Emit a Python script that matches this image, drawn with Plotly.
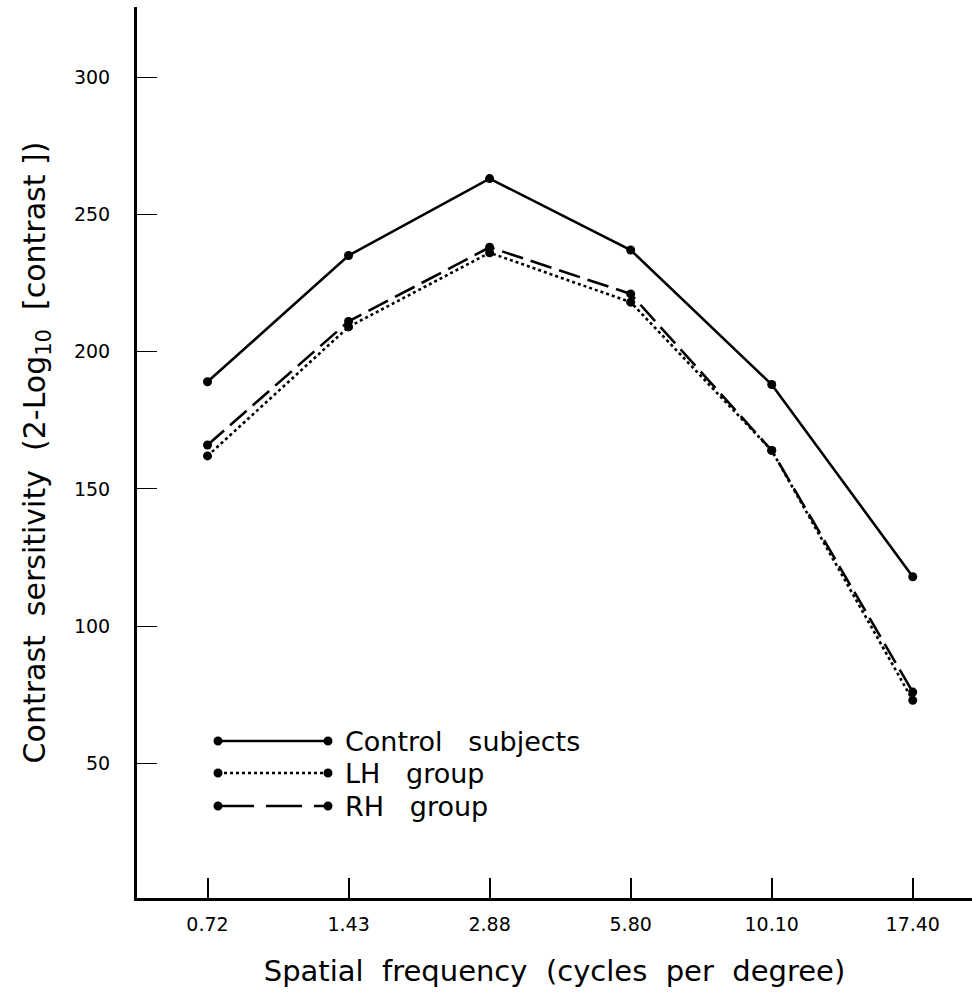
import plotly.graph_objects as go

categories = ["0.72", "1.43", "2.88", "5.80", "10.10", "17.40"]
control = [189, 235, 263, 237, 188, 118]
lh_group = [162, 209, 236, 218, 164, 73]
rh_group = [166, 211, 238, 221, 164, 76]
y_ticks = [50, 100, 150, 200, 250, 300]

FONT = "DejaVu Sans"
NB = "\u00a0"
fig = go.Figure()

series = [
    ("Control" + NB * 3 + "subjects", control, "solid"),
    ("LH" + NB * 3 + "group", lh_group, "dot"),
    ("RH" + NB * 3 + "group", rh_group, "22px,8px"),
]
for name, vals, dash in series:
    fig.add_trace(go.Scatter(
        x=list(range(len(categories))), y=vals, name=name,
        mode="lines+markers",
        line=dict(color="black", width=2.6, dash=dash),
        marker=dict(color="black", size=9),
        showlegend=False,
    ))

# manual legend (paper coords)
L, R, T, B = 137, 972, 7, 898
def px(x):
    return (x - L) / (R - L)
def py(y):
    return (B - y) / (B - T)

rows = [741, 773, 806]
for (name, vals, dash), yy in zip(series, rows):
    d = {"solid": "solid", "dot": "dot", "22px,8px": "36px,12px"}[dash]
    fig.add_shape(type="line", xref="paper", yref="paper",
                  x0=px(218), x1=px(328), y0=py(yy), y1=py(yy),
                  line=dict(color="black", width=2.6, dash=d))
    for cx in (218, 328):
        fig.add_shape(type="circle", xref="paper", yref="paper",
                      x0=px(cx - 4.5), x1=px(cx + 4.5),
                      y0=py(yy + 4.5), y1=py(yy - 4.5),
                      fillcolor="black", line=dict(color="black", width=0))
    fig.add_annotation(xref="paper", yref="paper", x=px(343), y=py(yy),
                       text=name, showarrow=False, xanchor="left",
                       yanchor="middle",
                       font=dict(family=FONT, size=27, color="black"))

xtitle = (NB * 2).join(["Spatial", "frequency", "(cycles", "per", "degree)"])
ytitle = (NB * 2).join(["Contrast", "sersitivity", "(2-Log<sub>10</sub>",
                        "[contrast" + NB + "])"])

fig.update_layout(
    width=972, height=997,
    margin=dict(l=L, r=0, t=T, b=997 - B),
    paper_bgcolor="white", plot_bgcolor="white",
    font=dict(family=FONT, color="black"),
    xaxis=dict(
        tickmode="array", tickvals=list(range(len(categories))),
        ticktext=categories, range=[-0.5, 5.42],
        showgrid=False, zeroline=False,
        showline=True, linecolor="black", linewidth=2.5,
        ticks="inside", ticklen=20, tickwidth=1.5, tickcolor="black",
        tickfont=dict(family=FONT, size=19, color="black"),
        ticklabelstandoff=7,
        title=dict(text=xtitle,
                   font=dict(family=FONT, size=29, color="black"),
                   standoff=28),
    ),
    yaxis=dict(
        tickmode="array", tickvals=y_ticks,
        range=[1, 325.5],
        showgrid=False, zeroline=False,
        showline=True, linecolor="black", linewidth=3,
        ticks="inside", ticklen=20, tickwidth=1.2, tickcolor="black",
        tickfont=dict(family=FONT, size=19, color="black"),
        ticklabelstandoff=20,
        title=dict(text=ytitle,
                   font=dict(family=FONT, size=30, color="black"),
                   standoff=20),
    ),
)

fig.write_html("out.html")
